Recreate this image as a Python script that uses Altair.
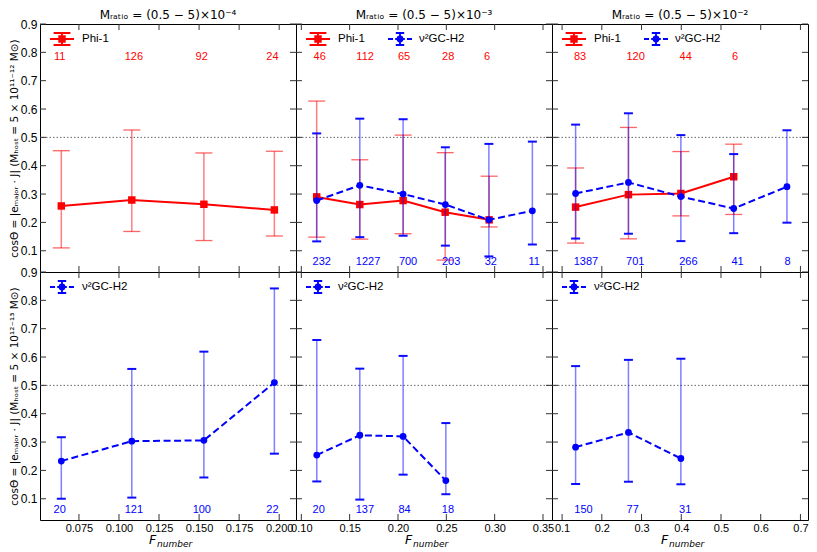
import altair as alt
import pandas as pd

RED = "#ff0000"
BLUE = "#0000ff"

# ---------------- data ----------------
col_domains = [[0.0507, 0.2105], [0.0945, 0.3593], [0.0746, 0.7190]]
col_ticks = [[0.075, 0.100, 0.125, 0.150, 0.175, 0.200],
             [0.10, 0.15, 0.20, 0.25, 0.30, 0.35],
             [0.1, 0.2, 0.3, 0.4, 0.5, 0.6, 0.7]]
col_formats = [".3f", ".2f", ".1f"]
y_ticks = [0.1, 0.2, 0.3, 0.4, 0.5, 0.6, 0.7, 0.8, 0.9]
col_titles = ["Mᵣₐₜᵢₒ = (0.5 − 5)×10⁻⁴",
              "Mᵣₐₜᵢₒ = (0.5 − 5)×10⁻³",
              "Mᵣₐₜᵢₒ = (0.5 − 5)×10⁻²"]
row_titles = ["cosΘ = |eₘₐⱼₒᵣ · J|  (Mₕₒₛₜ = 5 × 10¹¹⁻¹² M⊙)",
              "cosΘ = |eₘₐⱼₒᵣ · J|  (Mₕₒₛₜ = 5 × 10¹²⁻¹³ M⊙)"]

# Row 1 (M_host = 5e11-12): Phi-1
phi1_x = [[0.064, 0.108, 0.153, 0.197],
          [0.1159, 0.1605, 0.2053, 0.2488, 0.2943],
          [0.134, 0.267, 0.399, 0.532]]
phi1_y = [[0.258, 0.279, 0.264, 0.244],
          [0.290, 0.263, 0.277, 0.236, 0.209],
          [0.254, 0.298, 0.302, 0.361]]
phi1_lo = [[0.110, 0.168, 0.136, 0.152],
           [0.148, 0.141, 0.160, 0.067, 0.184],
           [0.127, 0.142, 0.223, 0.228]]
phi1_hi = [[0.453, 0.526, 0.445, 0.451],
           [0.628, 0.421, 0.508, 0.446, 0.363],
           [0.392, 0.535, 0.450, 0.476]]
phi1_n = [["11", "126", "92", "24"],
          ["46", "112", "65", "28", "6"],
          ["83", "120", "44", "6"]]
phi1_nx = [[0.0630, 0.1093, 0.1516, 0.1958],
           [0.119, 0.166, 0.2063, 0.2519, 0.2922],
           [0.1454, 0.285, 0.411, 0.5356]]

# Row 1: nu2GC-H2 (absent in the first column)
nu1_x = [[], [0.1159, 0.1605, 0.2053, 0.2490, 0.2940, 0.3390],
         [0.134, 0.267, 0.399, 0.532, 0.666]]
nu1_y = [[], [0.277, 0.331, 0.300, 0.263, 0.209, 0.241],
         [0.302, 0.341, 0.291, 0.249, 0.326]]
nu1_lo = [[], [0.133, 0.148, 0.153, 0.118, 0.080, 0.122],
          [0.143, 0.160, 0.134, 0.162, 0.199]]
nu1_hi = [[], [0.514, 0.566, 0.564, 0.465, 0.477, 0.485],
          [0.545, 0.585, 0.508, 0.441, 0.525]]
nu1_n = [[], ["232", "1227", "700", "203", "32", "11"],
         ["1387", "701", "266", "41", "8"]]
nu1_nx = [[], [0.1211, 0.169, 0.2104, 0.255, 0.296, 0.3409],
          [0.160, 0.284, 0.418, 0.5417, 0.6677]]

# Row 2 (M_host = 5e12-13): nu2GC-H2
nu2_x = [[0.064, 0.108, 0.153, 0.197],
         [0.116, 0.1605, 0.2053, 0.2495],
         [0.134, 0.267, 0.399]]
nu2_y = [[0.233, 0.303, 0.306, 0.510],
         [0.254, 0.324, 0.320, 0.164],
         [0.282, 0.334, 0.242]]
nu2_lo = [[0.100, 0.104, 0.175, 0.259],
          [0.161, 0.097, 0.185, 0.116],
          [0.152, 0.160, 0.151]]
nu2_hi = [[0.317, 0.558, 0.619, 0.842],
          [0.660, 0.559, 0.604, 0.367],
          [0.568, 0.590, 0.594]]
nu2_n = [["20", "121", "100", "22"],
         ["20", "137", "84", "18"],
         ["150", "77", "31"]]
nu2_nx = [[0.0630, 0.1093, 0.1517, 0.1958],
          [0.118, 0.1657, 0.2068, 0.2517],
          [0.154, 0.2778, 0.41]]

red_label_y = 0.783
blue_label_y = 0.062

# ---------------- layout ----------------
W, H = 256, 248
YDOM = [0.025, 0.9]
LFONT = "Liberation Sans"
MFONT = "DejaVu Sans"


def make_panel(row, col):
    xs = alt.Scale(domain=col_domains[col], nice=False, zero=False)
    ys = alt.Scale(domain=YDOM, nice=False, zero=False)
    if row == 1:
        xaxis = alt.Axis(values=col_ticks[col], format=col_formats[col], ticks=False,
                         domain=False, grid=False, labelFlush=False, labelOverlap=False,
                         labelFontSize=11, labelPadding=2, title=None)
    else:
        xaxis = None
    if col == 0:
        yaxis = alt.Axis(values=y_ticks, format=".1f", ticks=False, domain=False,
                         grid=False, labelFlush=False, labelOverlap=False,
                         labelFontSize=12, labelPadding=3, title=row_titles[row],
                         titleFontSize=10.5, titleFontWeight="normal", titlePadding=1)
    else:
        yaxis = None

    def X(f):
        return alt.X(f"{f}:Q", scale=xs, axis=xaxis)

    def Y(f):
        return alt.Y(f"{f}:Q", scale=ys, axis=yaxis)

    layers = []
    # dotted reference line
    layers.append(alt.Chart(pd.DataFrame({"h": [0.5]})).mark_rule(
        color="#666666", strokeWidth=1, strokeDash=[1.5, 2]).encode(y=Y("h")))

    def series(xv, yv, lo, hi, nv, nx, ly, color, kind):
        if len(xv) == 0:
            return []
        df = pd.DataFrame({"x": xv, "y": yv, "lo": lo, "hi": hi})
        lab = pd.DataFrame({"nx": nx, "ly": [ly] * len(nx), "n": nv})
        base = alt.Chart(df)
        capw = 17 if kind == "phi" else 9
        capop = 0.6 if kind == "phi" else 0.95
        capsw = 1.3 if kind == "phi" else 2
        out = [
            base.mark_rule(color=color, strokeWidth=1.5, opacity=0.5).encode(
                x=X("x"), y=Y("lo"), y2=alt.Y2("hi:Q")),
            base.mark_point(shape="M-1,0H1", size=capw ** 2, filled=False, color=color,
                            strokeWidth=capsw, opacity=capop).encode(x=X("x"), y=Y("lo")),
            base.mark_point(shape="M-1,0H1", size=capw ** 2, filled=False, color=color,
                            strokeWidth=capsw, opacity=capop).encode(x=X("x"), y=Y("hi")),
        ]
        if kind == "phi":
            out.append(base.mark_line(color=color, strokeWidth=2).encode(x=X("x"), y=Y("y")))
            out.append(base.mark_point(shape="square", filled=True, size=56, color=color,
                                       opacity=1).encode(x=X("x"), y=Y("y")))
        else:
            out.append(base.mark_line(color=color, strokeWidth=2, strokeDash=[7, 3.5]).encode(
                x=X("x"), y=Y("y")))
            out.append(base.mark_point(shape="circle", filled=True, size=46, color=color,
                                       opacity=1).encode(x=X("x"), y=Y("y")))
        out.append(alt.Chart(lab).mark_text(color=color, fontSize=11, font=LFONT).encode(
            x=X("nx"), y=Y("ly"), text="n:N"))
        return out

    if row == 0:
        layers += series(phi1_x[col], phi1_y[col], phi1_lo[col], phi1_hi[col],
                         phi1_n[col], phi1_nx[col], red_label_y, RED, "phi")
        layers += series(nu1_x[col], nu1_y[col], nu1_lo[col], nu1_hi[col],
                         nu1_n[col], nu1_nx[col], blue_label_y, BLUE, "nu")
    else:
        layers += series(nu2_x[col], nu2_y[col], nu2_lo[col], nu2_hi[col],
                         nu2_n[col], nu2_nx[col], blue_label_y, BLUE, "nu")

    # inward ticks on all four sides
    yt = alt.Chart(pd.DataFrame({"t": y_ticks}))
    xt = alt.Chart(pd.DataFrame({"t": col_ticks[col]}))
    tk = dict(color="#333333", strokeWidth=1)
    layers += [
        yt.mark_rule(**tk).encode(x=alt.value(0), x2=alt.value(6), y=Y("t")),
        yt.mark_rule(**tk).encode(x=alt.value(W - 6), x2=alt.value(W), y=Y("t")),
        xt.mark_rule(**tk).encode(x=X("t"), y=alt.value(H - 6), y2=alt.value(H)),
        xt.mark_rule(**tk).encode(x=X("t"), y=alt.value(0), y2=alt.value(6)),
    ]

    # legend (drawn inside the panel, upper left)
    one = alt.Chart(pd.DataFrame({"k": [0]}))
    entries = []
    if row == 0:
        entries.append(("Phi-1", RED, "phi"))
        if col > 0:
            entries.append(("ν²GC-H2", BLUE, "nu"))
    else:
        entries.append(("ν²GC-H2", BLUE, "nu"))
    slots = [(22, 42), (104, 123)]
    for (txt, color, kind), (cx, tx) in zip(entries, slots):
        if kind == "phi":
            sym = "M-1,0H1M0,-0.5V0.5M-0.7,-0.5H0.7M-0.7,0.5H0.7"
            mshape, msize = "square", 56
        else:
            sym = ("M-1,0H-0.58M-0.4,0H0.4M0.58,0H1M0,-0.5V0.5"
                   "M-0.35,-0.5H0.35M-0.35,0.5H0.35")
            mshape, msize = "circle", 46
        layers += [
            one.mark_point(shape=sym, size=576, filled=False, color=color,
                           strokeWidth=1.8, opacity=1).encode(x=alt.value(cx), y=alt.value(15)),
            one.mark_point(shape=mshape, size=msize, filled=True, color=color,
                           opacity=1).encode(x=alt.value(cx), y=alt.value(15)),
            one.mark_text(align="left", baseline="middle", fontSize=11.5, font=LFONT,
                          color="black").encode(x=alt.value(tx), y=alt.value(15),
                                                 text=alt.value(txt)),
        ]

    # column title (top row only)
    if row == 0:
        layers.append(one.mark_text(align="center", baseline="alphabetic", fontSize=12,
                                    font=MFONT, color="black").encode(
            x=alt.value(W / 2), y=alt.value(-5), text=alt.value(col_titles[col])))

    # x-axis title F_number (bottom row only)
    if row == 1:
        layers += [
            one.mark_text(align="left", baseline="alphabetic", fontSize=12.5, font=MFONT,
                          fontStyle="italic", color="black").encode(
                x=alt.value(W / 2 - 19), y=alt.value(H + 24), text=alt.value("F")),
            one.mark_text(align="left", baseline="alphabetic", fontSize=9, font=MFONT,
                          fontStyle="italic", color="black").encode(
                x=alt.value(W / 2 - 11), y=alt.value(H + 27), text=alt.value("number")),
        ]

    return alt.layer(*layers).properties(width=W, height=H)


panels = [make_panel(r, c) for r in range(2) for c in range(3)]
chart = alt.concat(*panels, columns=3, spacing=0, bounds="flush").properties(
    padding={"left": 0, "top": 0, "right": 0, "bottom": 0}
).configure_view(stroke="black", strokeWidth=1).configure_axis(
    labelFont=LFONT, titleFont=MFONT, labelColor="black", titleColor="black"
)

chart.save("out.html", embed_options={"renderer": "svg", "actions": False})
